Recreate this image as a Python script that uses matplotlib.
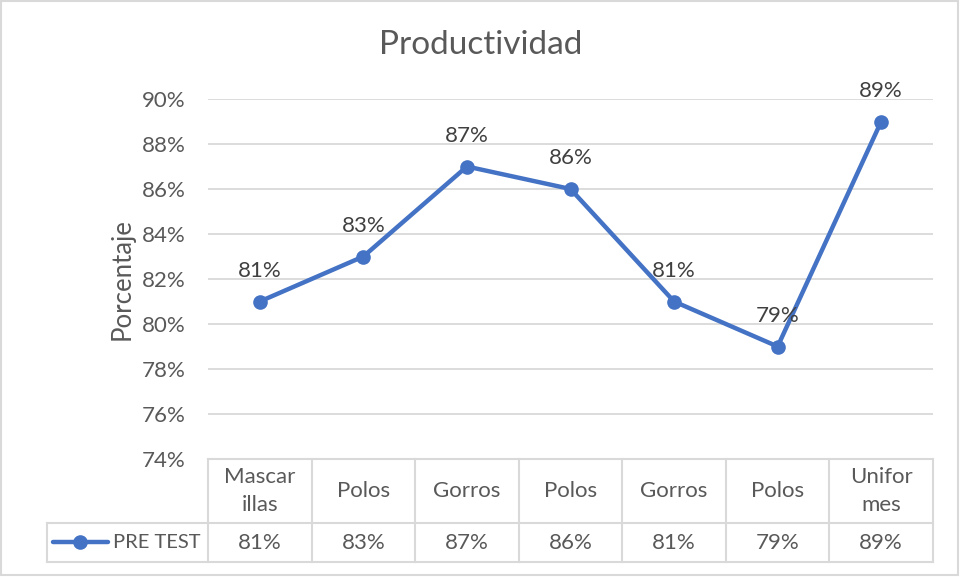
import matplotlib.pyplot as plt
from matplotlib.lines import Line2D
from matplotlib.patches import Rectangle

# datos
categorias = ["Mascar\nillas", "Polos", "Gorros", "Polos", "Gorros", "Polos", "Unifor\nmes"]
pre_test = [81, 83, 87, 86, 81, 79, 89]
serie = "PRE TEST"
yticks = [74, 76, 78, 80, 82, 84, 86, 88, 90]

plt.rcParams['font.family'] = ['Lato', 'DejaVu Sans']
azul = "#4472C4"
gris = "#D9D9D9"
texto = "#595959"

W, H = 961, 577
fig = plt.figure(figsize=(W / 100, H / 100), dpi=100)

# area del grafico (pixeles de la imagen)
x0, x1, y0, y1 = 208, 933, 99, 459
ax = fig.add_axes([x0 / W, (H - y1) / H, (x1 - x0) / W, (y1 - y0) / H])

n = len(pre_test)
xs = list(range(n))
ax.plot(xs, pre_test, color=azul, lw=3.2, marker="o", ms=9.5, solid_capstyle="round", zorder=3)
for x, v in zip(xs, pre_test):
    ax.annotate(f"{v}%", (x, v), xytext=(0, 22), textcoords="offset points",
                ha="center", va="center", fontsize=16, color="#404040", zorder=4)

ax.set_xlim(-0.5, n - 0.5)
ax.set_ylim(74, 90)
ax.set_yticks(yticks)
ax.set_yticklabels([f"{t}%" for t in yticks], fontsize=16, color=texto)
ax.tick_params(axis="y", length=0, pad=16)
ax.set_xticks([])
ax.grid(axis="y", color=gris, lw=1.3)
ax.set_axisbelow(True)
for s in ax.spines.values():
    s.set_visible(False)

fig.text(122 / W, 1 - 279 / H, "Porcentaje", rotation=90, ha="center", va="center",
         fontsize=18.5, color=texto)
fig.text(481 / W, 1 - 45 / H, "Productividad", ha="center", va="center",
         fontsize=24, color=texto)

# tabla de datos
ppu = (x1 - x0) / n
def ay(py):
    return (y1 - py) / (y1 - y0)

tr = ax.get_xaxis_transform()
r0, r1, r2 = ay(459), ay(523), ay(562)
xl = -0.5 - (x0 - 47) / ppu
lk = dict(color=gris, lw=1.5, transform=tr, clip_on=False)
ax.add_line(Line2D([-0.5, n - 0.5], [r0, r0], **lk))
ax.add_line(Line2D([xl, n - 0.5], [r1, r1], **lk))
ax.add_line(Line2D([xl, n - 0.5], [r2, r2], **lk))
ax.add_line(Line2D([xl, xl], [r1, r2], **lk))
for i in range(n + 1):
    ax.add_line(Line2D([i - 0.5, i - 0.5], [r0, r2], **lk))

for x, c, v in zip(xs, categorias, pre_test):
    ax.text(x, ay(491), c, transform=tr, ha="center", va="center", fontsize=16,
            color=texto, linespacing=1.45)
    ax.text(x, ay(543), f"{v}%", transform=tr, ha="center", va="center", fontsize=16,
            color=texto)

lx0 = -0.5 - (x0 - 53) / ppu
lx1 = -0.5 - (x0 - 108) / ppu
ax.add_line(Line2D([lx0, lx1], [ay(542), ay(542)], color=azul, lw=3.2, transform=tr,
                   clip_on=False, solid_capstyle="round"))
ax.add_line(Line2D([(lx0 + lx1) / 2], [ay(542)], color=azul, marker="o", ms=9.5,
                   transform=tr, clip_on=False))
ax.text(-0.5 - (x0 - 113) / ppu, ay(543), serie, transform=tr, ha="left", va="center",
        fontsize=14.5, color=texto)

# borde del grafico
fig.add_artist(Rectangle((1 / W, 2 / H), 957 / W, 574 / H, transform=fig.transFigure,
                         fill=False, edgecolor=gris, lw=1.5))

fig.savefig("out.png", dpi=100)
